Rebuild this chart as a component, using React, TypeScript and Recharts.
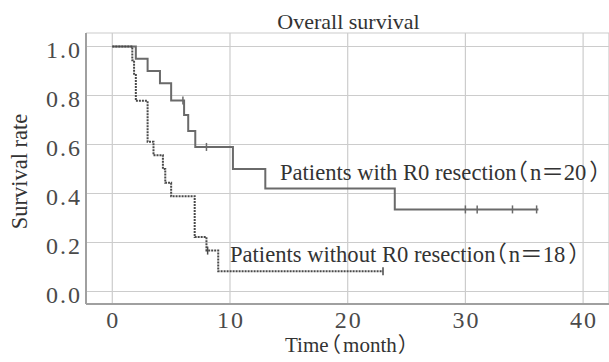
import { ComposedChart, Line, Scatter, XAxis, YAxis, CartesianGrid } from "recharts";

// Kaplan-Meier steps: [time (month), survival]
const withR0 = [
  { t: 0, s: 1.0 },
  { t: 2.0, s: 0.95 },
  { t: 3.0, s: 0.9 },
  { t: 4.05, s: 0.85 },
  { t: 5.0, s: 0.78 },
  { t: 6.1, s: 0.72 },
  { t: 6.45, s: 0.655 },
  { t: 7.05, s: 0.59 },
  { t: 10.25, s: 0.5 },
  { t: 13.0, s: 0.42 },
  { t: 24.0, s: 0.335 },
  { t: 36.2, s: 0.335 },
]

const withoutR0 = [
  { t: 0, s: 1.0 },
  { t: 1.7, s: 0.944 },
  { t: 1.85, s: 0.889 },
  { t: 2.0, s: 0.778 },
  { t: 3.0, s: 0.611 },
  { t: 3.5, s: 0.556 },
  { t: 4.3, s: 0.5 },
  { t: 4.5, s: 0.444 },
  { t: 5.0, s: 0.389 },
  { t: 7.0, s: 0.222 },
  { t: 8.0, s: 0.167 },
  { t: 9.0, s: 0.083 },
  { t: 23.0, s: 0.083 },
]

// censored cases
const censorWith = [
  { t: 6.0, s: 0.78 },
  { t: 8.0, s: 0.59 },
  { t: 30.0, s: 0.335 },
  { t: 31.0, s: 0.335 },
  { t: 34.0, s: 0.335 },
  { t: 36.05, s: 0.335 },
]

const censorWithout = [
  { t: 8.1, s: 0.167 },
  { t: 23.0, s: 0.083 },
]

const xTicks = [0, 10, 20, 30, 40]
const yTicks = [0, 0.2, 0.4, 0.6, 0.8, 1.0]

const title = "Overall survival"
const yLabel = "Survival rate"

const font = "'Liberation Serif', 'Noto Sans CJK SC', serif"
const tickStyle = { fontFamily: font, letterSpacing: 2 }
// half-width CJK brackets
const half = { fontFeatureSettings: '"halt"' }

const censorShape = (color: string) => (props: any) => (
  <line x1={props.cx} y1={props.cy - 4} x2={props.cx} y2={props.cy + 4} stroke={color} strokeWidth={1.5} />
)

export default function App() {
  return (
    <div style={{ position: "absolute", left: 0, top: 0, width: 609, height: 362, background: "#fff", fontFamily: font }}>
      <ComposedChart width={609} height={362} margin={{ top: 33, right: 0, bottom: 0, left: 0 }} style={{ fontFamily: font }}>
        <CartesianGrid stroke="#cccccc" strokeWidth={1.2} />
        <XAxis
          type="number"
          dataKey="t"
          domain={[-2.234, 42.2]}
          allowDataOverflow
          ticks={xTicks}
          height={58}
          tickSize={0}
          tickMargin={7}
          tickLine={false}
          axisLine={{ stroke: "#a0a0a0", strokeWidth: 2 }}
          tick={{ fill: "#4a4a4a", fontSize: 24, dx: 1, style: tickStyle }}
        />
        <YAxis
          type="number"
          dataKey="s"
          domain={[-0.051, 1.055]}
          allowDataOverflow
          ticks={yTicks}
          width={86}
          tickSize={0}
          tickMargin={4}
          tickLine={false}
          tickFormatter={(v: number) => v.toFixed(1)}
          axisLine={{ stroke: "#a0a0a0", strokeWidth: 2 }}
          tick={{ fill: "#4a4a4a", fontSize: 24, dy: 3, style: tickStyle }}
        />
        <Line data={withR0} dataKey="s" type="stepAfter" stroke="#6a6a6a" strokeWidth={2} dot={false} activeDot={false} isAnimationActive={false} />
        <Line data={withoutR0} dataKey="s" type="stepAfter" stroke="#4a4a4a" strokeWidth={2} strokeDasharray="2 1" dot={false} activeDot={false} isAnimationActive={false} />
        <Scatter data={censorWith} dataKey="s" shape={censorShape("#6a6a6a")} isAnimationActive={false} />
        <Scatter data={censorWithout} dataKey="s" shape={censorShape("#4a4a4a")} isAnimationActive={false} />
      </ComposedChart>
      <svg width={609} height={362} style={{ position: "absolute", left: 0, top: 0, pointerEvents: "none" }} fontFamily={font} fill="#333">
        <text x={348.5} y={28.5} textAnchor="middle" fontSize={22}>{title}</text>
        <text x={26.5} y={171.5} textAnchor="middle" fontSize={22.5} transform="rotate(-90, 26.5, 171.5)">{yLabel}</text>
        <text x={285} y={352} fontSize={21}>
          Time<tspan dx={2} style={half}>（</tspan><tspan dx={2}>month</tspan><tspan dx={1} style={half}>）</tspan>
        </text>
        <text x={280} y={180} fontSize={22.6}>
          Patients with R0 resection<tspan style={half}>（</tspan><tspan dx={2}>n＝20</tspan><tspan dx={3} style={half}>）</tspan>
        </text>
        <text x={230} y={262} fontSize={22.6}>
          Patients without R0 resection<tspan style={half}>（</tspan><tspan dx={2}>n＝18</tspan><tspan dx={3} style={half}>）</tspan>
        </text>
      </svg>
    </div>
  )
}
